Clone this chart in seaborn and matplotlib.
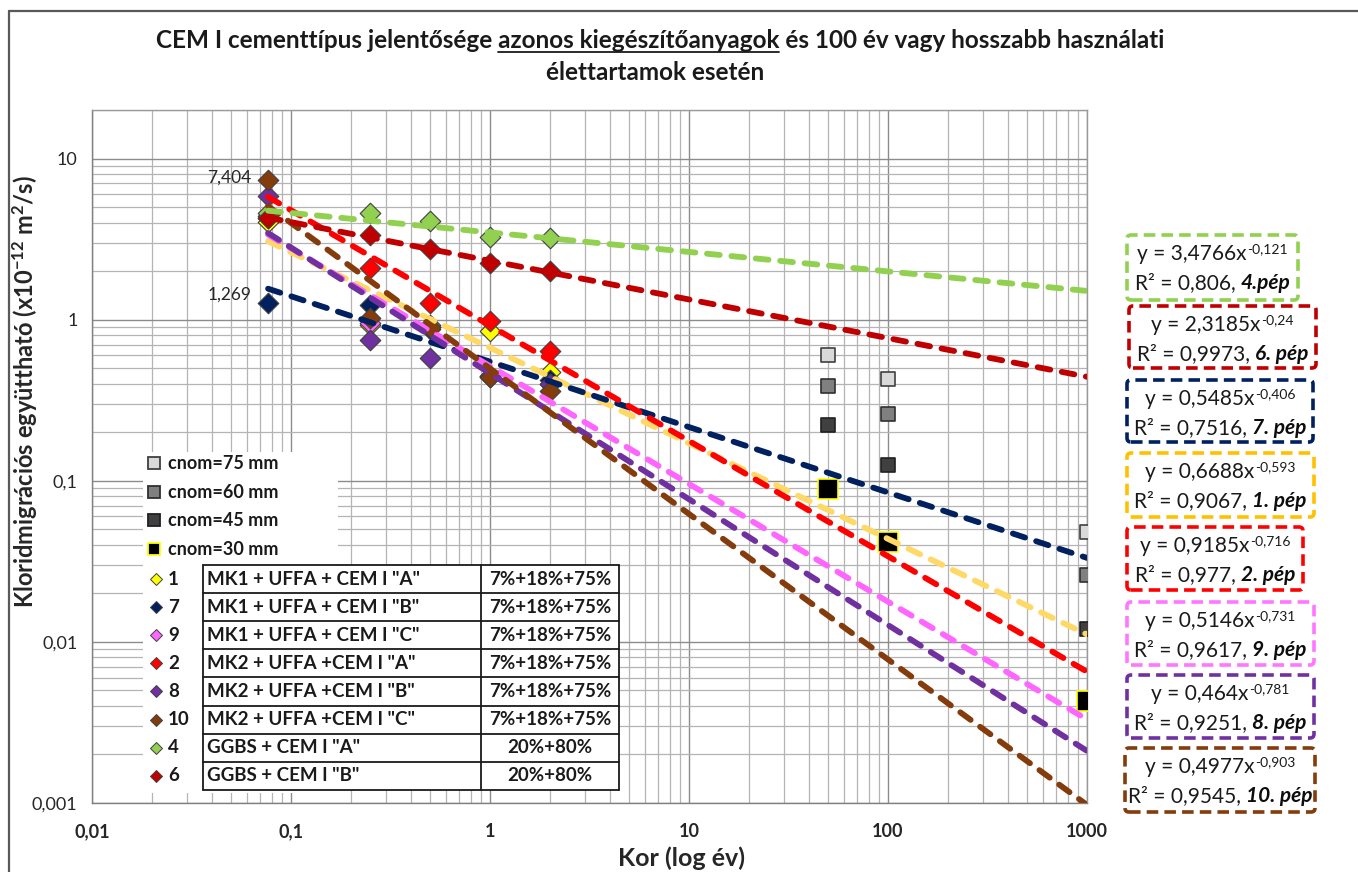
import numpy as np
import pandas as pd
import matplotlib
matplotlib.use("Agg")
import matplotlib.pyplot as plt
import matplotlib.ticker as mticker
import seaborn as sns
from matplotlib.transforms import IdentityTransform
from matplotlib.patches import Rectangle, FancyBboxPatch
from matplotlib.lines import Line2D

# ---------------- data ----------------
ages = [0.0767, 0.25, 0.5, 1, 2]
series_ids = ["1", "7", "9", "2", "8", "10", "4", "6"]
series_names = ['MK1 + UFFA + CEM I "A"', 'MK1 + UFFA + CEM I "B"', 'MK1 + UFFA + CEM I "C"',
                'MK2 + UFFA +CEM I "A"', 'MK2 + UFFA +CEM I "B"', 'MK2 + UFFA +CEM I "C"',
                'GGBS + CEM I "A"', 'GGBS + CEM I "B"']
series_mix = ["7%+18%+75%"] * 6 + ["20%+80%"] * 2
vals_1 = [4.02, 0.93, 0.92, 0.85, 0.47]
vals_7 = [1.269, 1.24, 0.87, 0.45, 0.42]
vals_9 = [4.3, 0.95, 0.90, 0.45, 0.40]
vals_2 = [4.4, 2.1, 1.26, 0.975, 0.64]
vals_8 = [5.83, 0.75, 0.58, 0.44, 0.40]
vals_10 = [7.404, 1.02, 0.90, 0.44, 0.36]
vals_4 = [4.6, 4.6, 4.08, 3.27, 3.23]
vals_6 = [4.25, 3.33, 2.76, 2.25, 2.0]
series_vals = [vals_1, vals_7, vals_9, vals_2, vals_8, vals_10, vals_4, vals_6]

trend_a = [0.6688, 0.5485, 0.5146, 0.9185, 0.464, 0.4977, 3.4766, 2.3185]
trend_b = [-0.593, -0.406, -0.731, -0.716, -0.781, -0.903, -0.121, -0.24]
trend_a_txt = ["0,6688", "0,5485", "0,5146", "0,9185", "0,464", "0,4977", "3,4766", "2,3185"]
trend_b_txt = ["-0,593", "-0,406", "-0,731", "-0,716", "-0,781", "-0,903", "-0,121", "-0,24"]
trend_r2_txt = ["0,9067", "0,7516", "0,9617", "0,977", "0,9251", "0,9545", "0,806", "0,9973"]
trend_tag = ["1. pép", "7. pép", "9. pép", "2. pép", "8. pép", "10. pép", "4.pép", "6. pép"]
trend_x_end = 1000

cnom_x = [50, 100, 1000]
cnom_labels = ["cnom=75 mm", "cnom=60 mm", "cnom=45 mm", "cnom=30 mm"]
cnom75 = [0.606, 0.43, 0.0478]
cnom60 = [0.389, 0.26, 0.026]
cnom45 = [0.221, 0.126, 0.012]
cnom30 = [0.089, 0.0416, 0.00432]
cnom_vals = [cnom75, cnom60, cnom45, cnom30]

x_ticks = [0.01, 0.1, 1, 10, 100, 1000]
x_ticklabels = ["0,01", "0,1", "1", "10", "100", "1000"]
y_ticks = [0.001, 0.01, 0.1, 1, 10]
y_ticklabels = ["0,001", "0,01", "0,1", "1", "10"]

# ---------------- styles ----------------
marker_colors = ["#ffff00", "#002060", "#ff66ff", "#ff0000", "#7030a0", "#843c0c", "#92d050", "#c00000"]
line_colors = ["#ffd966", "#002060", "#ff66ff", "#ff0000", "#7030a0", "#843c0c", "#92d050", "#c00000"]
box_colors = ["#ffc000", "#002060", "#ff77ff", "#ff0000", "#7030a0", "#843c0c", "#92d050", "#c00000"]
cnom_face = ["#d9d9d9", "#808080", "#404040", "#000000"]
cnom_edge = ["#404040", "#303030", "#202020", "#ffff00"]
cnom_size = [110, 110, 110, 190]

sns.set_theme(style="white")
FONT = "Lato"
plt.rcParams["font.family"] = [FONT, "DejaVu Sans"]
plt.rcParams["mathtext.fontset"] = "custom"
plt.rcParams["mathtext.rm"] = FONT
plt.rcParams["mathtext.bf"] = FONT + ":bold"
plt.rcParams["mathtext.it"] = FONT + ":italic"
plt.rcParams["mathtext.default"] = "bf"

W, H = 1358, 872
fig = plt.figure(figsize=(W / 100, H / 100), dpi=100)
fig.patch.set_facecolor("white")

ax_l, ax_r, ax_t, ax_b = 92, 1087, 110, 803
ax = fig.add_axes([ax_l / W, (H - ax_b) / H, (ax_r - ax_l) / W, (ax_b - ax_t) / H])
ax.set_xscale("log")
ax.set_yscale("log")
ax.set_xlim(0.01, 1000)
ax.set_ylim(0.001, 20)

ax.xaxis.set_major_locator(mticker.FixedLocator(x_ticks))
ax.xaxis.set_major_formatter(mticker.FixedFormatter(x_ticklabels))
ax.yaxis.set_major_locator(mticker.FixedLocator(y_ticks))
ax.yaxis.set_major_formatter(mticker.FixedFormatter(y_ticklabels))
ax.xaxis.set_minor_locator(mticker.LogLocator(base=10, subs=np.arange(2, 10), numticks=50))
ax.yaxis.set_minor_locator(mticker.LogLocator(base=10, subs=np.arange(2, 10), numticks=50))
ax.xaxis.set_minor_formatter(mticker.NullFormatter())
ax.yaxis.set_minor_formatter(mticker.NullFormatter())
ax.grid(which="major", color="#8c8c8c", linewidth=1.0)
ax.grid(which="minor", color="#b4b4b4", linewidth=0.9)
ax.set_axisbelow(True)
for sp in ax.spines.values():
    sp.set_color("#9a9a9a")
    sp.set_linewidth(1.0)
ax.spines["left"].set_color("#808080")
ax.spines["bottom"].set_color("#808080")
ax.tick_params(which="both", direction="inout", color="#808080", width=0.9)
ax.tick_params(which="major", length=9)
ax.tick_params(which="minor", length=9)
ax.tick_params(axis="x", labelsize=13, pad=10)
ax.tick_params(axis="y", labelsize=13, pad=6)
for lab in ax.get_xticklabels():
    lab.set_fontweight("bold")

ax.set_xlabel("Kor (log év)", fontsize=18, fontweight="bold")
ax.xaxis.set_label_coords((681 - ax_l) / (ax_r - ax_l), (ax_b - 846) / (ax_b - ax_t))
ax.set_ylabel(r"Kloridmigrációs együttható (x10$^{-12}$ m$^{2}$/s)", fontsize=17,
              fontweight="bold")
ax.yaxis.set_label_coords((40 - ax_l) / (ax_r - ax_l), (ax_b - 392) / (ax_b - ax_t))

# ---------------- markers ----------------
for vals, mc in zip(series_vals, marker_colors):
    sns.scatterplot(x=ages, y=vals, marker="D", s=110, color=mc, edgecolor="#404040",
                    linewidth=0.8, ax=ax, zorder=3, legend=False)

for vals, fc, ec, sz in zip(cnom_vals, cnom_face, cnom_edge, cnom_size):
    sns.scatterplot(x=cnom_x, y=vals, marker="s", s=sz, color=fc, edgecolor=ec,
                    linewidth=1.2, ax=ax, zorder=3, legend=False)

# ---------------- trend lines ----------------
for a, b, lc in zip(trend_a, trend_b, line_colors):
    xs = np.array([ages[0], trend_x_end])
    ys = a * xs ** b
    sns.lineplot(x=xs, y=ys, ax=ax, color=lc, linewidth=4.2, zorder=4, legend=False)
    ln = ax.lines[-1]
    ln.set_linewidth(4.2)
    ln.set_dashes([2.2, 2.0])
    ln.set_dash_capstyle("round")

ax.annotate("7,404", xy=(ages[0], vals_10[0]), xytext=(-17, 2), textcoords="offset pixels",
            ha="right", va="center", fontsize=12.5, color="#262626")
ax.annotate("1,269", xy=(ages[0], vals_7[0]), xytext=(-16, 8), textcoords="offset pixels",
            ha="right", va="center", fontsize=12.5, color="#262626")

# ---------------- helpers in image-pixel coordinates ----------------
ID = IdentityTransform()
fig.canvas.draw()
renderer = fig.canvas.get_renderer()


def ptext(x, y, s, **kw):
    return fig.text(x, H - y, s, transform=ID, **kw)


def width_of(s, **kw):
    t = fig.text(0, 0, s, transform=ID, **kw)
    w = t.get_window_extent(renderer).width
    t.remove()
    return w


def draw_runs(cx, base_y, runs, zorder=8):
    widths = [width_of(s, **kw) for s, kw, dy, gap in runs]
    total = sum(widths) + sum(r[3] for r in runs)
    x = cx - total / 2
    for (s, kw, dy, gap), w in zip(runs, widths):
        x += gap
        ptext(x, base_y - dy, s, ha="left", va="baseline", zorder=zorder, **kw)
        x += w


def hline(x0, x1, y, **kw):
    fig.add_artist(Line2D([x0, x1], [H - y, H - y], transform=ID, **kw))


# ---------------- title ----------------
title1 = "CEM I cementtípus jelentősége azonos kiegészítőanyagok és 100 év vagy hosszabb használati"
pre = "CEM I cementtípus jelentősége"
und = "CEM I cementtípus jelentősége azonos kiegészítőanyagok"
tkw = dict(fontsize=17.5, fontweight="bold", color="#1a1a1a")
tcx = 660
ptext(tcx, 48, title1, ha="center", va="baseline", **tkw)
ptext(655, 80, "élettartamok esetén", ha="center", va="baseline", **tkw)
wt = width_of(title1, **tkw)
x0 = tcx - wt / 2
u0 = x0 + width_of(pre + " a", **tkw) - width_of("a", **tkw)
u1 = x0 + width_of(und, **tkw)
hline(u0, u1, 52, color="#1a1a1a", linewidth=1.3)

# figure frame (top and left)
hline(9, W, 11, color="#595959", linewidth=1.6)
fig.add_artist(Line2D([9, 9], [0, H - 11], transform=ID, color="#595959", linewidth=1.6))

# ---------------- left legend + table ----------------
fig.add_artist(Rectangle((143, H - 793), 195, 793 - 452, transform=ID, facecolor="white",
                         edgecolor="none", zorder=5))
leg_y = [463, 492, 520, 549]
for lab, fc, ec, yy in zip(cnom_labels, cnom_face, cnom_edge, leg_y):
    fig.add_artist(Line2D([154], [H - yy], transform=ID, marker="s", markersize=8.5,
                          markerfacecolor=fc, markeredgecolor=ec, markeredgewidth=1.3, zorder=6))
    ptext(168, yy, lab, ha="left", va="center", fontsize=13, fontweight="bold",
          color="#1a1a1a", zorder=6)

tab_x0, tab_xm, tab_x1 = 203, 481, 619
tab_top, row_h = 565, 28.1
n = len(series_ids)
fig.add_artist(Rectangle((tab_x0, H - (tab_top + n * row_h)), tab_x1 - tab_x0, n * row_h,
                         transform=ID, facecolor="white", edgecolor="none", zorder=6))
for i in range(n + 1):
    yy = tab_top + i * row_h
    hline(tab_x0, tab_x1, yy, color="#1a1a1a", linewidth=1.3, zorder=7)
for xx in (tab_x0, tab_xm, tab_x1):
    fig.add_artist(Line2D([xx, xx], [H - tab_top, H - (tab_top + n * row_h)], transform=ID,
                          color="#1a1a1a", linewidth=1.3, zorder=7))
for i, (sid, name, mix, mc) in enumerate(zip(series_ids, series_names, series_mix, marker_colors)):
    yy = tab_top + (i + 0.5) * row_h
    fig.add_artist(Line2D([156], [H - yy], transform=ID, marker="D", markersize=6.5,
                          markerfacecolor=mc, markeredgecolor="#404040", markeredgewidth=0.7,
                          zorder=7))
    ptext(168, yy, sid, ha="left", va="center", fontsize=13.5, fontweight="bold",
          color="#1a1a1a", zorder=7)
    ptext(207, yy, name, ha="left", va="center", fontsize=13.5, fontweight="bold",
          color="#1a1a1a", zorder=7)
    ptext((tab_xm + tab_x1) / 2, yy, mix, ha="center", va="center", fontsize=13.5,
          fontweight="bold", color="#1a1a1a", zorder=7)

# ---------------- right equation boxes ----------------
box_order = [6, 7, 1, 0, 3, 2, 4, 5]  # indices into series arrays, top to bottom
box_rects = [(1127, 235, 1298, 300), (1129, 306, 1316, 368), (1127, 380, 1313, 442),
             (1127, 453, 1314, 517), (1127, 527, 1303, 590), (1127, 602, 1314, 665),
             (1127, 675, 1314, 738), (1125, 748, 1315, 812)]
eq_kw = dict(fontsize=15, color="#1a1a1a")
sup_kw = dict(fontsize=10, color="#1a1a1a")
tag_kw = dict(fontsize=15, color="#0d0d0d", fontweight="bold", fontstyle="italic")
space_w = width_of("a a", **eq_kw) - width_of("aa", **eq_kw)
for idx, (bx0, by0, bx1, by1) in zip(box_order, box_rects):
    fig.add_artist(FancyBboxPatch((bx0, H - by1), bx1 - bx0, by1 - by0,
                                  boxstyle="round,pad=0,rounding_size=4", transform=ID,
                                  facecolor="white", edgecolor=box_colors[idx], linewidth=2.6,
                                  linestyle=(0, (3.2, 1.7)), zorder=5))
    cx = (bx0 + bx1) / 2
    draw_runs(cx, by0 + 25, [("y = " + trend_a_txt[idx] + "x", eq_kw, 0, 0),
                             (trend_b_txt[idx], sup_kw, 7, 1)])
    draw_runs(cx, by0 + 54, [("R² = " + trend_r2_txt[idx] + ",", eq_kw, 0, 0),
                             (trend_tag[idx], tag_kw, 0, space_w)])

fig.savefig("out.png", dpi=100, facecolor="white")
